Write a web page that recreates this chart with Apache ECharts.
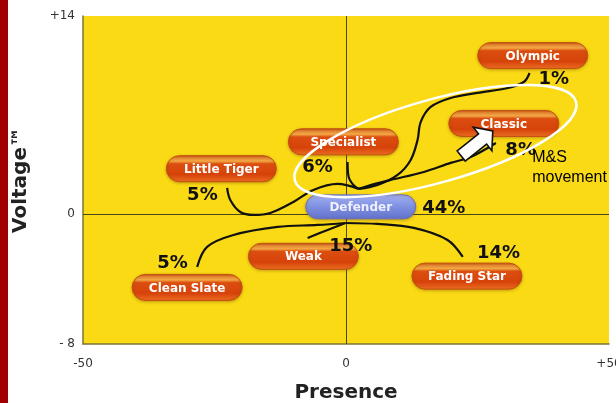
<!DOCTYPE html>
<html><head><meta charset="utf-8">
<script src="https://cdn.jsdelivr.net/npm/echarts@6/dist/echarts.min.js"></script>
<style>html,body{margin:0;padding:0;background:#fff;}#chart{width:616px;height:403px;}</style>
</head><body><div id="chart"></div>
<script>
// Segments (pill labels) and their positions on the Presence / Voltage map
const segmentNames = ['Olympic', 'Classic', 'Specialist', 'Little Tiger', 'Defender', 'Weak', 'Fading Star', 'Clean Slate'];
const segmentX = [35.5, 30.0, -0.5, -23.7, 2.8, -8.1, 23.0, -30.2];
const segmentY = [11.2, 6.4, 5.1, 3.2, 0.5, -3.0, -4.4, -5.2];

// Share of each segment
const shareLabels = ['1%', '8%', '6%', '5%', '44%', '15%', '14%', '5%'];
const shareX = [39.5, 33.2, -5.4, -27.3, 18.6, 0.9, 29.0, -33.0];
const shareY = [9.5, 4.5, 3.3, 1.3, 0.4, -2.3, -2.8, -3.5];

// Movement paths from the centre to each segment
const olympicPath = [[34.9, 9.97], [33.8, 9.33], [30.8, 8.91], [25.0, 8.56], [19.9, 8.2], [16.1, 7.57], [14.2, 6.5], [13.6, 5.23], [12.3, 3.82], [9.8, 2.76], [6.0, 2.05], [2.4, 1.77]];
const classicPath = [[28.5, 5.02], [23.7, 4.03], [19.9, 3.61], [14.8, 2.97], [8.5, 2.4], [4.1, 1.98], [2.4, 1.77]];
const specialistPath = [[0.3, 3.68], [0.5, 2.62], [1.4, 2.05], [2.4, 1.77]];
const littleTigerPath = [[-22.6, 1.84], [-22.0, 0.99], [-20.1, 0.14], [-17.6, -0.07], [-14.4, 0.07], [-10.0, 0.85], [-6.2, 1.70], [-1.6, 2.12], [2.4, 1.77]];
const cleanSlatePath = [[-28.3, -3.75], [-26.4, -2.33], [-21.4, -1.49], [-13.0, -0.92], [-5.4, -0.78], [-0.1, -0.64]];
const weakPath = [[-7.3, -1.70], [-3.5, -1.13], [-0.1, -0.64]];
const fadingStarPath = [[22.2, -3.04], [19.3, -1.84], [12.9, -0.99], [6.0, -0.71], [-0.1, -0.64]];

// Annotation (M&S movement)
const ellipseCenter = [17.0, 5.15];
const arrowTail = [21.9, 4.1];
const arrowTip = [27.9, 5.87];
const noteText = 'M&S\nmovement';
const notePos = [35.4, 4.7];

// Axes
const xTickValues = [-50, 0, 50];
const xTickLabels = ['-50', '0', '+50'];
const yMin = -9.2;
const yTickValues = [yMin, 0, 14];
const yTickLabels = ['- 8', '0', '+14'];

const chart = echarts.init(document.getElementById('chart'), null, {renderer: 'canvas'});

const pillGrad = {type: 'linear', x: 0, y: 0, x2: 0, y2: 1, colorStops: [
  {offset: 0, color: '#bf470f'}, {offset: 0.1, color: '#e98a35'}, {offset: 0.22, color: '#f3a844'},
  {offset: 0.32, color: '#dc4e10'}, {offset: 0.72, color: '#d6430a'}, {offset: 1, color: '#ee7024'}]};
const defGrad = {type: 'linear', x: 0, y: 0, x2: 0, y2: 1, colorStops: [
  {offset: 0, color: '#a6b2f2'}, {offset: 0.45, color: '#8193e2'}, {offset: 1, color: '#6070cc'}]};

function curve(name, path, extra) {
  return Object.assign({
    name: name, type: 'line', data: path, smooth: 0.35, showSymbol: false, silent: true, z: 3,
    lineStyle: {color: '#111', width: 2.2}
  }, extra || {});
}

const option = {
  animation: false,
  backgroundColor: '#ffffff',
  grid: {left: 83, right: 7, top: 16, bottom: 59, outerBoundsMode: 'none', containLabel: false,
    show: true, backgroundColor: '#f9da15', borderWidth: 0},
  graphic: [{type: 'rect', left: 0, top: 0, shape: {width: 8, height: 403}, style: {fill: '#a10000'}, z: 100}],
  xAxis: {
    type: 'value', min: -50, max: 50, interval: 50,
    axisLine: {show: true, onZero: false, lineStyle: {color: '#7d7436', width: 1.5}},
    axisTick: {show: false}, splitLine: {show: false},
    axisLabel: {margin: 14, color: '#333', fontFamily: 'DejaVu Sans', fontSize: 12,
      formatter: v => xTickLabels[xTickValues.indexOf(v)]},
    name: 'Presence', nameLocation: 'middle', nameGap: 39,
    nameTextStyle: {fontFamily: 'DejaVu Sans', fontWeight: 'bold', fontSize: 20, color: '#222'}
  },
  yAxis: {
    type: 'value', min: yMin, max: 14,
    axisLine: {show: true, onZero: false, lineStyle: {color: '#7d7436', width: 1.5}},
    axisTick: {show: false}, splitLine: {show: false},
    axisLabel: {customValues: yTickValues, margin: 8, color: '#333', fontFamily: 'DejaVu Sans', fontSize: 12,
      formatter: v => { const i = yTickValues.findIndex(t => Math.abs(t - v) < 1e-6); return i >= 0 ? yTickLabels[i] : ''; }},
    name: 'Voltage™', nameLocation: 'middle', nameGap: 52, nameRotate: 90,
    nameTextStyle: {fontFamily: 'DejaVu Sans', fontWeight: 'bold', fontSize: 20, color: '#222'}
  },
  series: [
    curve('Olympic path', olympicPath, {
      markLine: {silent: true, symbol: ['none', 'none'], label: {show: false}, z: 1,
        lineStyle: {color: '#4a4418', width: 1, type: 'solid'},
        data: [{xAxis: 0}, {yAxis: 0}]}
    }),
    curve('Classic path', classicPath),
    curve('Specialist path', specialistPath),
    curve('Little Tiger path', littleTigerPath),
    curve('Clean Slate path', cleanSlatePath),
    curve('Weak path', weakPath),
    curve('Fading Star path', fadingStarPath),
    {
      name: 'Segments', type: 'custom', z: 5, silent: true,
      data: segmentNames.map((n, i) => [segmentX[i], segmentY[i]]),
      renderItem: function (params, api) {
        const c = api.coord([api.value(0), api.value(1)]);
        const name = segmentNames[params.dataIndex];
        const isDef = name === 'Defender';
        const w = 110, h = isDef ? 24 : 26;
        return {type: 'group', children: [
          {type: 'rect', shape: {x: c[0] - w / 2, y: c[1] - h / 2, width: w, height: h, r: h / 2},
            style: {fill: isDef ? defGrad : pillGrad, stroke: isDef ? '#6470c0' : '#c4500f', lineWidth: 1,
              shadowBlur: 3, shadowOffsetY: 1, shadowColor: 'rgba(120,60,0,0.35)'}},
          {type: 'text', x: c[0], y: c[1] + 1,
            style: {text: name, fill: isDef ? '#eef0ff' : '#ffffff', font: 'bold 12px "DejaVu Sans"',
              align: 'center', verticalAlign: 'middle'}}
        ]};
      }
    },
    {
      name: 'Shares', type: 'custom', z: 6, silent: true,
      data: shareLabels.map((s, i) => [shareX[i], shareY[i]]),
      renderItem: function (params, api) {
        const c = api.coord([api.value(0), api.value(1)]);
        return {type: 'text', x: c[0], y: c[1],
          style: {text: shareLabels[params.dataIndex], fill: '#111', font: 'bold 18px "DejaVu Sans"',
            align: 'center', verticalAlign: 'middle'}};
      }
    },
    {
      name: 'M&S movement', type: 'custom', z: 8, silent: true,
      data: [[ellipseCenter[0], ellipseCenter[1]]],
      renderItem: function (params, api) {
        const c = api.coord([api.value(0), api.value(1)]);
        const t = api.coord(arrowTail), p = api.coord(arrowTip);
        const dx = p[0] - t[0], dy = p[1] - t[1], L = Math.hypot(dx, dy);
        const ux = dx / L, uy = dy / L, nx = -uy, ny = ux;
        const headLen = 13, headHalf = 15, shaftHalf = 6.5;
        const bx = p[0] - ux * headLen, by = p[1] - uy * headLen;
        const pts = [
          [t[0] + nx * shaftHalf, t[1] + ny * shaftHalf],
          [bx + nx * shaftHalf, by + ny * shaftHalf],
          [bx + nx * headHalf, by + ny * headHalf],
          [p[0], p[1]],
          [bx - nx * headHalf, by - ny * headHalf],
          [bx - nx * shaftHalf, by - ny * shaftHalf],
          [t[0] - nx * shaftHalf, t[1] - ny * shaftHalf]
        ];
        const n = api.coord(notePos);
        return {type: 'group', children: [
          {type: 'ellipse', x: c[0], y: c[1], rotation: 15.6 * Math.PI / 180,
            shape: {cx: 0, cy: 0, rx: 146, ry: 41.5},
            style: {fill: 'rgba(0,0,0,0)', stroke: '#ffffff', lineWidth: 2.5}},
          {type: 'polygon', shape: {points: pts},
            style: {fill: '#ffffff', stroke: '#111', lineWidth: 1.6}},
          {type: 'text', x: n[0], y: n[1],
            style: {text: noteText, fill: '#000', font: '16px "Liberation Sans"', lineHeight: 20,
              align: 'left', verticalAlign: 'top'}}
        ]};
      }
    }
  ]
};
chart.setOption(option);
</script>
</body></html>
